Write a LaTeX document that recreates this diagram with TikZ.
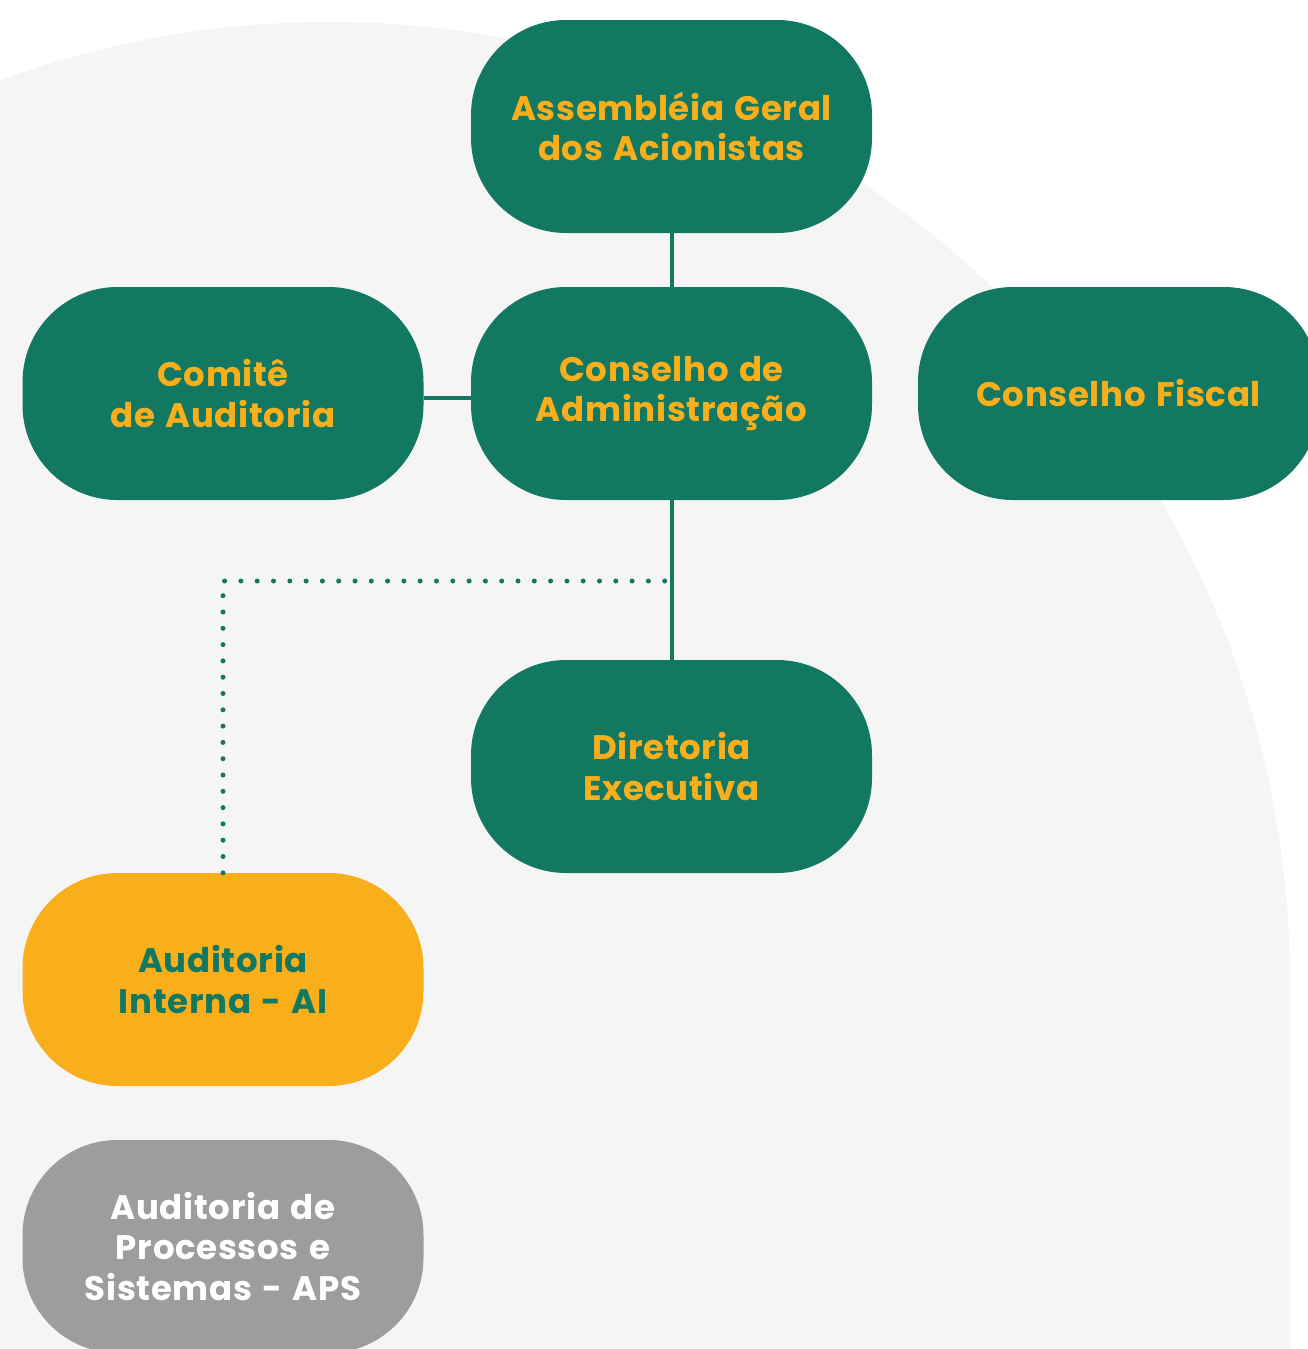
\documentclass[tikz,border=0pt]{standalone}
\usepackage{fontspec}
\setmainfont{Poppins}[LetterSpace=2,WordSpace=1.3]
\definecolor{orggreen}{HTML}{137862}
\definecolor{orgyellow}{HTML}{F9AF1B}
\definecolor{orggray}{HTML}{9D9D9C}
\definecolor{bggray}{HTML}{F5F5F5}
\begin{document}
\begin{tikzpicture}[x=1pt,y=-1pt,
  pill/.style={rectangle, rounded corners=95pt, minimum width=401pt, minimum height=213pt,
    inner sep=0pt, align=center, font=\fontsize{34}{40.5}\selectfont\bfseries},
  greenpill/.style={pill, fill=orggreen, text=orgyellow},
  aipill/.style={pill, fill=orgyellow, text=orggreen},
  apspill/.style={pill, fill=orggray, text=white},
  link/.style={draw=orggreen, line width=4pt},
  dotlink/.style={draw=orggreen, line width=5pt, line cap=round, dash pattern=on 0pt off 16.3pt}]
\useasboundingbox (0,0) rectangle (1308,1349);
\begin{scope}
  \clip (0,0) rectangle (1308,1349);
  \fill[bggray] (330,982) circle[radius=960pt];
  \fill[bggray] (-700,982) rectangle (1290,1360);
\end{scope}
\node[greenpill] (ag) at (671.5,126.5) {Assembléia Geral\\dos Acionistas};
\node[greenpill] (ca) at (671.5,393.5) {Conselho de\\Administração};
\node[greenpill] (cau) at (223,393.5) {Comitê\\de Auditoria};
\node[greenpill] (cf) at (1118.5,393.5) {Conselho Fiscal};
\node[greenpill] (de) at (671.5,766.5) {Diretoria\\Executiva};
\node[aipill] (ai) at (223,979.5) {Auditoria\\Interna - AI};
\node[apspill] (aps) at (223,1246.5) {Auditoria de\\Processos e\\Sistemas - APS};
\draw[link] (ag) -- (ca);
\draw[link] ([yshift=-4.5pt]cau.east) -- ([yshift=-4.5pt]ca.west);
\draw[link] (ca) -- (de);
\coordinate (dj) at (676,581);
\draw[dotlink] (ai.north) |- (dj);
\end{tikzpicture}
\end{document}
